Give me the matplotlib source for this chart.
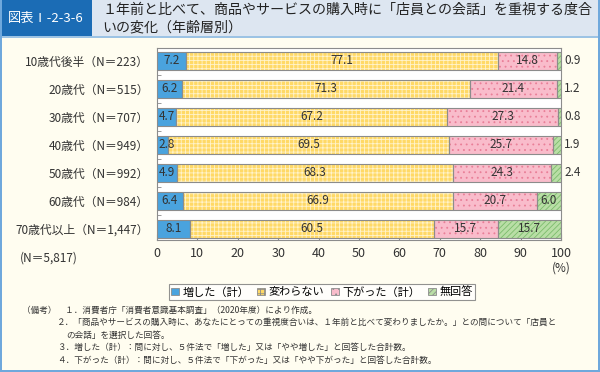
import numpy as np
import matplotlib.pyplot as plt
from matplotlib.patches import Patch, Rectangle

plt.rcParams['font.family'] = ['Noto Sans CJK JP', 'DejaVu Sans']
plt.rcParams['hatch.linewidth'] = 0.6

categories = ['10歳代後半（N＝223）', '20歳代（N＝515）', '30歳代（N＝707）',
              '40歳代（N＝949）', '50歳代（N＝992）', '60歳代（N＝984）',
              '70歳代以上（N＝1,447）']
increased = [7.2, 6.2, 4.7, 2.8, 4.9, 6.4, 8.1]
unchanged = [77.1, 71.3, 67.2, 69.5, 68.3, 66.9, 60.5]
decreased = [14.8, 21.4, 27.3, 25.7, 24.3, 20.7, 15.7]
no_answer = [0.9, 1.2, 0.8, 1.9, 2.4, 6.0, 15.7]
series_names = ['増した（計）', '変わらない', '下がった（計）', '無回答']

face = ['#4aa3de', '#ffd966', '#f9bccb', '#b9dea6']
hatch_col = [None, '#fff3cc', '#e97f98', '#7cbc6c']
hatches = [None, '++++', '...', '//////']
edge = '#8c8c8c'
cream = '#fffdf0'

fig = plt.figure(figsize=(6.0, 3.72), dpi=100)
fig.patch.set_facecolor(cream)

# header band
fig.add_artist(Rectangle((0, 1 - 36 / 372), 1, 36 / 372, transform=fig.transFigure,
                         facecolor='#dde6f1', edgecolor='none', zorder=0))
fig.add_artist(Rectangle((0, 1 - 36 / 372), 92 / 600, 36 / 372, transform=fig.transFigure,
                         facecolor='#1b6cb5', edgecolor='none', zorder=1))
fig.add_artist(Rectangle((0, 1 - 38 / 372), 1, 2 / 372, transform=fig.transFigure,
                         facecolor='#9cc3e4', edgecolor='none', zorder=1))
# side / bottom borders
for r in [(0, 0, 2 / 600, 1), (598 / 600, 0, 2 / 600, 1), (0, 0, 1, 2 / 372)]:
    fig.add_artist(Rectangle(r[:2], r[2], r[3], transform=fig.transFigure,
                             facecolor='#6fa8dc', edgecolor='none', zorder=1))

fig.text(46 / 600, 1 - 18 / 372, '図表Ⅰ-2-3-6', color='white', fontsize=9.5,
         ha='center', va='center')
fig.text(102 / 600, 1 - 10 / 372,
         '１年前と比べて、商品やサービスの購入時に「店員との会話」を重視する度合',
         fontsize=10.1, ha='left', va='center', color='#222222')
fig.text(102 / 600, 1 - 27 / 372, 'いの変化（年齢層別）',
         fontsize=10.1, ha='left', va='center', color='#222222')

ax = fig.add_axes([157 / 600, 1 - 240 / 372, 404 / 600, 192 / 372])
ax.set_facecolor('white')

data = [increased, unchanged, decreased, no_answer]
y = np.arange(len(categories))
left = np.zeros(len(categories))
h = 0.64
for i, vals in enumerate(data):
    vals = np.array(vals)
    if hatches[i]:
        ax.barh(y, vals, left=left, height=h, color=face[i], hatch=hatches[i],
                edgecolor=hatch_col[i], linewidth=0, zorder=2)
        ax.barh(y, vals, left=left, height=h, fill=False, edgecolor=edge,
                linewidth=0.8, zorder=3)
    else:
        ax.barh(y, vals, left=left, height=h, color=face[i], edgecolor=edge,
                linewidth=0.8, zorder=3)
    for j, v in enumerate(vals):
        if i == 0:
            x = max(v / 2, 2.4)
        else:
            x = left[j] + v / 2
        if i == 3 and v < 3:
            ax.text(100.8, j, f'{v:.1f}', ha='left', va='center', fontsize=8.5,
                    color='#333333', zorder=5, clip_on=False)
        else:
            ax.text(x, j, f'{v:.1f}', ha='center', va='center', fontsize=8.5,
                    color='#333333', zorder=5)
    left += vals

ax.set_xlim(0, 100)
ax.set_ylim(6.4, -0.46)
ax.set_xticks(np.arange(0, 101, 10))
ax.tick_params(axis='x', direction='in', length=4, color=edge, labelsize=9,
               labelcolor='#333333', pad=5)
ax.set_yticks(y)
ax.set_yticklabels(categories, fontsize=8.5, color='#333333')
ax.tick_params(axis='y', length=0, pad=6)
ax.set_yticks(np.arange(0.5, 6, 1), minor=True)
ax.tick_params(axis='y', which='minor', direction='in', length=3, color=edge)
for s in ax.spines.values():
    s.set_color(edge)
    s.set_linewidth(0.8)

fig.text(561 / 600, 1 - 268 / 372, '(%)', fontsize=8.5, ha='center', va='center',
         color='#333333')
fig.text(20 / 600, 1 - 258 / 372, '(N＝5,817)', fontsize=8.5, ha='left',
         va='center', color='#333333')

handles = []
for i in range(4):
    handles.append(Patch(facecolor=face[i], edgecolor=edge, linewidth=0.6,
                         hatch=hatches[i]))
leg = fig.legend(handles, series_names, loc='center', ncol=4,
                 bbox_to_anchor=(322 / 600, 1 - 292 / 372), fontsize=8,
                 frameon=True, fancybox=False, handlelength=0.7, handleheight=0.7,
                 handletextpad=0.3, columnspacing=0.7, borderpad=0.25)
leg.get_frame().set_edgecolor('#777777')
leg.get_frame().set_linewidth(0.8)

notes = [
    (22, 310, '（備考）　１．消費者庁「消費者意識基本調査」（2020年度）により作成。'),
    (57, 322.5, '２．「商品やサービスの購入時に、あなたにとっての重視度合いは、１年前と比べて変わりましたか。」との問について「店員と'),
    (66, 335, 'の会話」を選択した回答。'),
    (57, 347.5, '３．増した（計）：問に対し、５件法で「増した」又は「やや増した」と回答した合計数。'),
    (57, 360, '４．下がった（計）：問に対し、５件法で「下がった」又は「やや下がった」と回答した合計数。'),
]
for x, yy, t in notes:
    fig.text(x / 600, 1 - yy / 372, t, fontsize=6.2, ha='left', va='center',
             color='#333333')

fig.savefig('out.png', dpi=100, facecolor=fig.get_facecolor())
